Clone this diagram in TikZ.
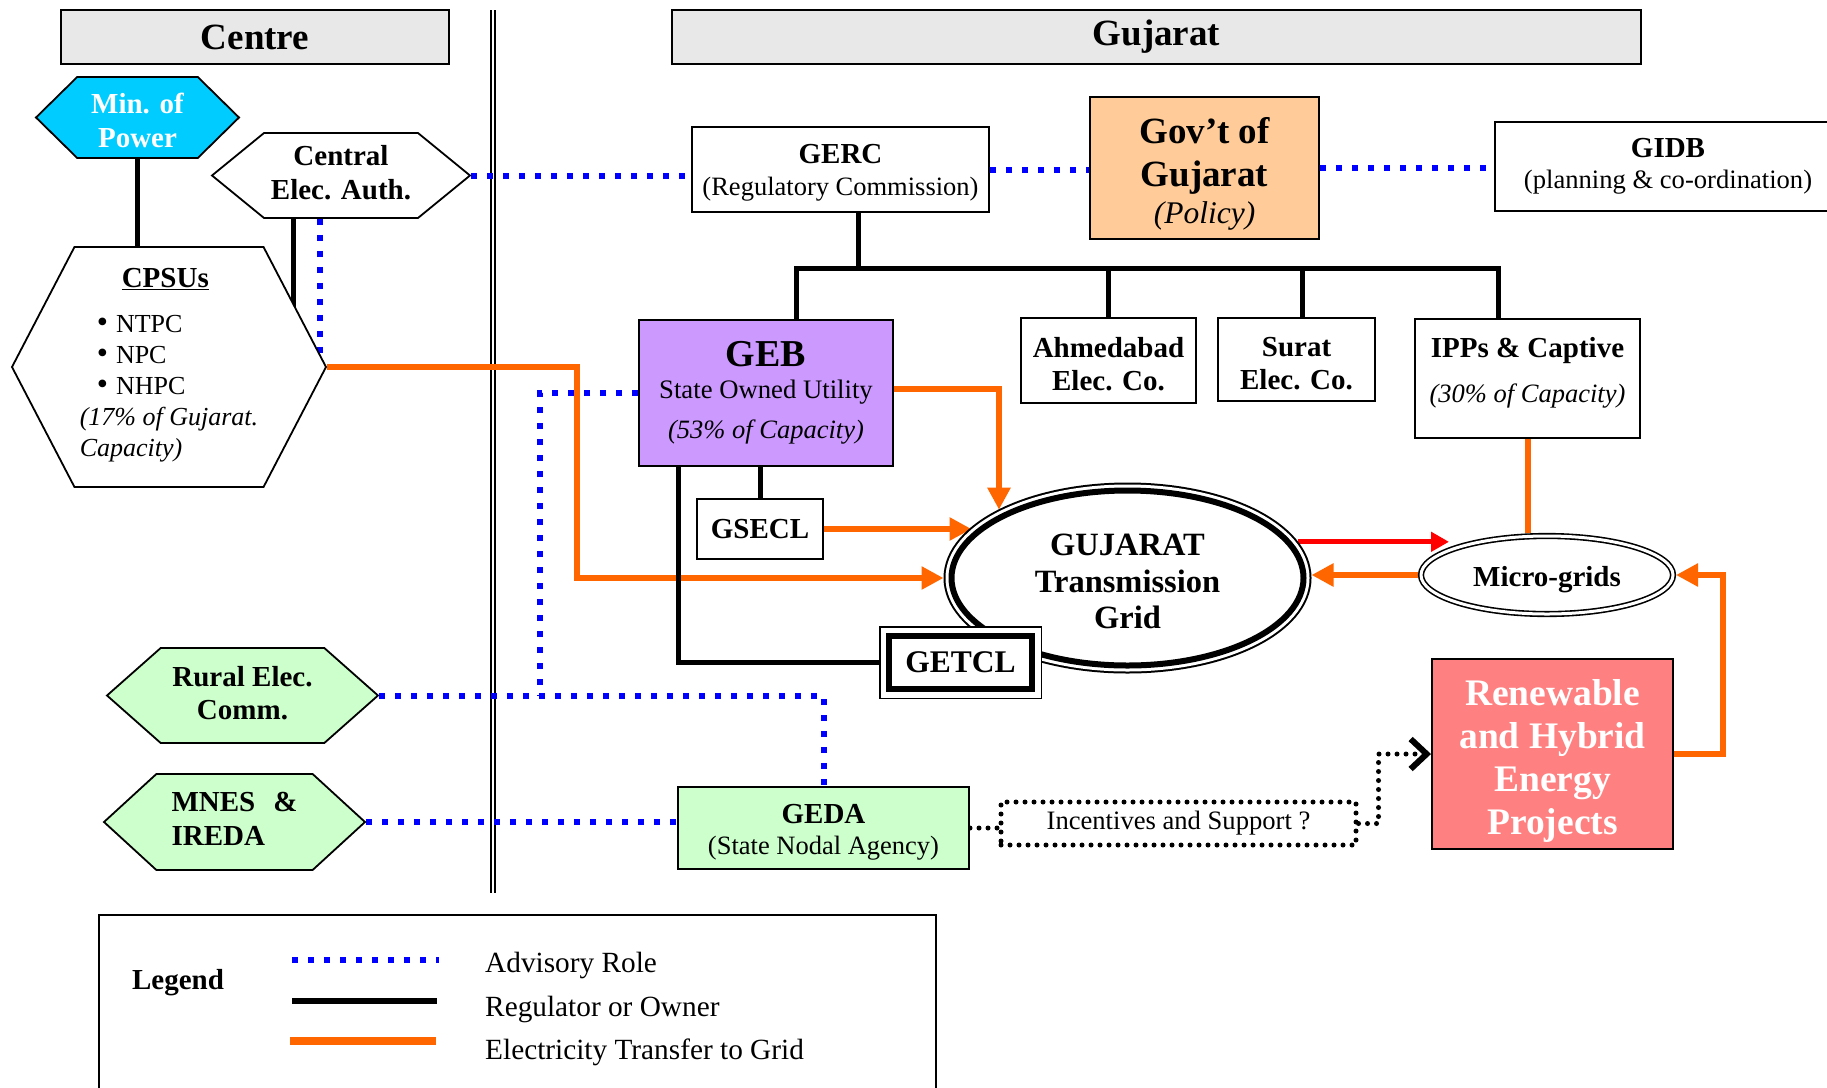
\documentclass[tikz,border=0pt]{standalone}
\usepackage{fontspec}
\setmainfont{Liberation Serif}
\usepackage{xcolor}
\usepackage{tikz}
\usetikzlibrary{shapes.geometric, shapes.symbols, arrows.meta, positioning, backgrounds}
\definecolor{hdrgray}{RGB}{232,232,232}
\definecolor{powercyan}{RGB}{0,204,255}
\definecolor{peach}{RGB}{255,204,153}
\definecolor{lavender}{RGB}{204,153,255}
\definecolor{mint}{RGB}{204,255,204}
\definecolor{salmon}{RGB}{255,128,128}
\definecolor{feedorange}{RGB}{255,102,0}
\tikzset{
    header/.style={rectangle, draw, line width=2pt, fill=hdrgray, minimum height=54pt, font=\fontsize{37}{40}\selectfont\bfseries},
    box/.style={rectangle, draw, line width=2pt, fill=white, align=center, inner sep=2pt},
    hexa/.style={signal, signal to=west and east, draw, line width=1.8pt, align=center, inner sep=2pt},
    advise/.style={line width=6pt, blue, dash pattern=on 6pt off 10pt},
    owner/.style={line width=5pt, black},
    feed/.style={line width=6pt, feedorange},
    incentive/.style={line width=5pt, dash pattern=on 0pt off 9pt, line cap=round},
    arrow/.style={-{Triangle[length=22pt, width=22pt]}}
}

\begin{document}
\begin{tikzpicture}[
    x=1pt, y=-1pt,
    boldtxt/.style={font=\fontsize{29}{34}\selectfont\bfseries},
    plaintxt/.style={font=\fontsize{26.5}{32}\selectfont},
    legendtext/.style={anchor=west, inner sep=0pt, font=\fontsize{29.3}{32}\selectfont}
]
    \useasboundingbox (0,0) rectangle (1827,1087);

    % Headers
    \node[header, minimum width=388pt] (centre) at (255,37) {Centre};
    \node[header, minimum width=969pt] (gujarat) at (1156.5,37) {Gujarat};

    % Centre side
    \node[hexa, boldtxt, fill=powercyan, text=white, minimum width=203pt, minimum height=81pt, signal pointer angle=89] (minpow) at (137.5,117.5) {\rule{0pt}{27pt}Min. of\\Power};
    \node[hexa, boldtxt, fill=white, minimum width=258pt, minimum height=85pt, signal pointer angle=78.5] (cea) at (341,175.5) {Central\\Elec. Auth.\rule[-7pt]{0pt}{7pt}};
    \node[hexa, fill=white, minimum width=314pt, minimum height=240pt, signal pointer angle=125, align=left, font=\fontsize{26}{31}\selectfont] (cpsu) at (169,367)
        {\hspace*{42pt}{\fontsize{29}{31}\selectfont\bfseries\underline{CPSUs}}\\[14pt]
         \hspace*{17pt}{\fontsize{32}{31}\selectfont\textbullet}\hspace{8pt}NTPC\\
         \hspace*{17pt}{\fontsize{32}{31}\selectfont\textbullet}\hspace{8pt}NPC\\
         \hspace*{17pt}{\fontsize{32}{31}\selectfont\textbullet}\hspace{8pt}NHPC\\
         \textit{(17\% of Gujarat.}\\
         \textit{Capacity)}\rule[-10pt]{0pt}{10pt}};
    \node[hexa, boldtxt, fill=mint, minimum width=271pt, minimum height=95pt, signal pointer angle=83, font=\fontsize{29}{33}\selectfont\bfseries] (rural) at (242.5,695.5) {Rural Elec.\\Comm.\rule[-6pt]{0pt}{6pt}};
    \node[hexa, boldtxt, fill=mint, minimum width=261pt, minimum height=96pt, signal pointer angle=85, align=left] (mnes) at (234.5,822) {MNES\hspace{18pt}\&\\IREDA\rule[-6pt]{0pt}{6pt}};

    % Gujarat side
    \node[box, plaintxt, minimum width=297pt, minimum height=85pt] (gerc) at (840.5,169.5) {{\fontsize{29}{32}\selectfont\bfseries\rule{0pt}{26pt}GERC}\\(Regulatory Commission)};
    \node[box, fill=peach, minimum width=229pt, minimum height=142pt, font=\fontsize{37}{43}\selectfont\bfseries] (gov) at (1204.5,168) {\rule{0pt}{38pt}Gov’t of\\Gujarat\\[-6pt]{\fontsize{31.5}{37}\selectfont\mdseries\itshape (Policy)}};
    \node[box, plaintxt, minimum width=346pt, minimum height=89pt, font=\fontsize{26.6}{31}\selectfont] (gidb) at (1668,166.5) {{\fontsize{29}{31}\selectfont\bfseries GIDB}\\(planning \& co-ordination)};
    \node[box, fill=lavender, minimum width=254pt, minimum height=146pt, font=\fontsize{26.7}{32}\selectfont] (geb) at (766,393) {{\fontsize{38}{32}\selectfont\bfseries GEB}\\State Owned Utility\\[8pt]{\fontsize{26.5}{32}\selectfont\itshape (53\% of Capacity)}};
    \node[box, boldtxt, minimum width=175pt, minimum height=85pt, font=\fontsize{29}{33}\selectfont\bfseries] (ahm) at (1108.5,360.5) {\rule{0pt}{27pt}Ahmedabad\\Elec. Co.};
    \node[box, boldtxt, minimum width=157pt, minimum height=83pt, font=\fontsize{29}{33}\selectfont\bfseries] (surat) at (1296.5,359.5) {\rule{0pt}{27pt}Surat\\Elec. Co.};
    \node[box, minimum width=225pt, minimum height=119pt, font=\fontsize{29}{45}\selectfont] (ipps) at (1527.5,378.5) {\textbf{IPPs \& Captive}\\{\fontsize{26.5}{45}\selectfont\itshape (30\% of Capacity)\rule[-18pt]{0pt}{18pt}}};
    \node[box, boldtxt, minimum width=126pt, minimum height=60pt] (gsecl) at (760,529) {GSECL};

    % Grid and micro-grids
    \node[ellipse, draw, line width=6pt, fill=white, minimum width=352pt, minimum height=175pt, outer sep=8pt,
          preaction={draw, line width=16pt}, preaction={draw=white, line width=12pt},
          align=center, font=\fontsize{32.5}{36.5}\selectfont\bfseries] (grid) at (1127.5,578) {\rule{0pt}{29pt}GUJARAT\\Transmission\\Grid};
    \node[rectangle, draw, line width=6pt, fill=white, minimum width=143pt, minimum height=53pt, outer sep=10pt,
          preaction={draw, line width=20pt}, preaction={draw=white, line width=17pt},
          font=\fontsize{31.5}{36}\selectfont\bfseries] (getcl) at (960.5,662.5) {GETCL};
    \node[ellipse, draw, double, double distance=3pt, line width=1.6pt, fill=white, minimum width=252pt, minimum height=78pt, outer sep=3pt, boldtxt] (mgrid) at (1547,575) {\rule{0pt}{29pt}Micro-grids};
    \node[box, fill=salmon, text=white, minimum width=241pt, minimum height=190pt, font=\fontsize{37.5}{43}\selectfont\bfseries] (renew) at (1552.5,754) {\rule{0pt}{40pt}Renewable\\and Hybrid\\Energy\\Projects};

    % Agencies
    \node[box, fill=mint, minimum width=291pt, minimum height=82pt, font=\fontsize{26.5}{31}\selectfont] (geda) at (823.5,828) {{\fontsize{29}{31}\selectfont\bfseries\rule{0pt}{27pt}GEDA}\\(State Nodal Agency)};
    \node[incentive, draw, minimum width=355pt, minimum height=43pt, font=\fontsize{26.6}{32}\selectfont] (incent) at (1178.5,823.5) {Incentives and Support ?};

    \coordinate (bus) at (858,268);

    % Connections
    \begin{scope}[on background layer]
        \draw[double, double distance=2.4pt, line width=1.6pt] (493,10) -- (493,893);
        % electricity transfer
        \draw[feed, arrow] (cpsu.east) -| ([xshift=-61pt]geb.west |- grid.west) -- (grid.west);
        \draw[feed, arrow] ([yshift=4pt]geb.east) -| (grid.152);
        \draw[feed, arrow] (gsecl.east) -- (gsecl.east -| grid.162);
        \draw[feed, arrow] (mgrid.west) -- (mgrid.west -| grid.east);
        \draw[feed] (ipps.south) -- (ipps.south |- mgrid.north);
        \draw[feed, arrow] (renew.east) -- ++(49,0) |- (mgrid.east);
        \draw[line width=5pt, red, -{Triangle[length=18pt, width=19pt]}] (grid.12) -- ([xshift=31pt]grid.12 -| mgrid.west);
        % regulator or owner
        \draw[owner] (minpow.south) -- (minpow.south |- cpsu.north);
        \draw[owner] ([xshift=-48pt]cea.south) -- ([xshift=-48pt]cea.south |- cpsu.center);
        \draw[owner] (gerc.south -| bus) -- (bus);
        \draw[owner] ([xshift=30pt]geb.north) |- (bus) -| ([xshift=-29.5pt]ipps.north);
        \draw[owner] (ahm.north) -- (ahm.north |- bus);
        \draw[owner] ([xshift=5.5pt]surat.north) -- ([xshift=5.5pt]surat.north |- bus);
        \draw[owner] (gsecl.north) -- (gsecl.north |- geb.south);
        \draw[owner] ([xshift=-88pt]geb.south) |- (getcl.west);
        % advisory role
        \draw[advise] ([xshift=-21pt]cea.south) -- ([xshift=-21pt]cea.south |- cpsu.center);
        \draw[advise] (cea.east) -- (cea.east -| gerc.west);
        \draw[advise] (gerc.east) -- (gerc.east -| gov.west);
        \draw[advise] (gov.east) -- (gov.east -| gidb.west);
        \draw[advise] (geb.west) -| ([xshift=161pt]rural.east);
        \draw[advise] (rural.east) -| (geda.north);
        \draw[advise] (mnes.east) -- (mnes.east -| geda.west);
        % incentives
        \draw[incentive] (geda.east) -- (geda.east -| incent.west);
        \draw[incentive, -{Straight Barb[length=16pt, width=30pt, line width=6pt]}] (incent.east) -- ++(20,0) |- (renew.west);
    \end{scope}

    % Legend
    \draw[line width=2pt] (99,915) rectangle (936,1110);
    \node[boldtxt] (legend) at (178,983) {Legend};
    \node[legendtext] (advl) at (485,965) {Advisory Role};
    \node[legendtext] (ownl) at (485,1009) {Regulator or Owner};
    \node[legendtext] (feedl) at (485,1052) {Electricity Transfer to Grid};
    \draw[advise] ([shift={(-193pt,5pt)}]advl.west) -- ++(147,0);
    \draw[owner, line width=6pt] ([shift={(-193pt,8pt)}]ownl.west) -- ++(145,0);
    \draw[feed, line width=8pt] ([shift={(-195pt,11pt)}]feedl.west) -- ++(146,0);
\end{tikzpicture}
\end{document}
